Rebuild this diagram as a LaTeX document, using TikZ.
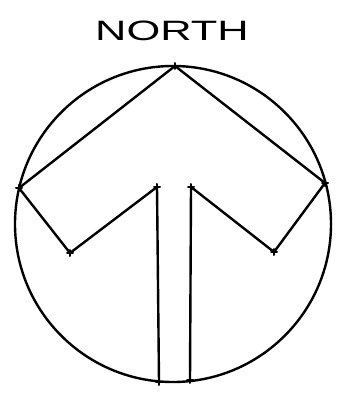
\documentclass[tikz,border=0pt]{standalone}
\usepackage{fontspec}
\setmainfont{Liberation Sans}
\usetikzlibrary{positioning,calc}

\begin{document}
\begin{tikzpicture}[x=1pt,y=-1pt,line width=2.4pt,line join=round,line cap=round,
    tick/.style={line width=2pt}]
    \useasboundingbox (0,0) rectangle (337,395);
    % label
    \node[xscale=1.55,font=\fontsize{28}{28}\selectfont,inner sep=0pt] (title) at (172,31) {NORTH};
    % circle
    \coordinate (o) at (173,224);
    \draw (o) circle[radius=158];
    % arrow
    \coordinate (lb) at (159,382);
    \coordinate (lt) at (157,187);
    \coordinate (li) at (70,253);
    \coordinate (lp) at (19,188);
    \coordinate (ap) at (175,66);
    \coordinate (rp) at (325,183);
    \coordinate (ri) at (274,252);
    \coordinate (rt) at (191,187);
    \coordinate (rb) at (190,380);
    \draw (lb)--(lt)--(li)--(lp)--(ap)--(rp)--(ri)--(rt)--(rb);
    % small crosses at the corners
    \foreach \p in {lb,lt,li,lp,ap,rp,ri,rt,rb}
      \draw[tick] ($(\p)+(-3,0)$)--($(\p)+(3,0)$) ($(\p)+(0,-3)$)--($(\p)+(0,3)$);
  \end{tikzpicture}
\end{document}
